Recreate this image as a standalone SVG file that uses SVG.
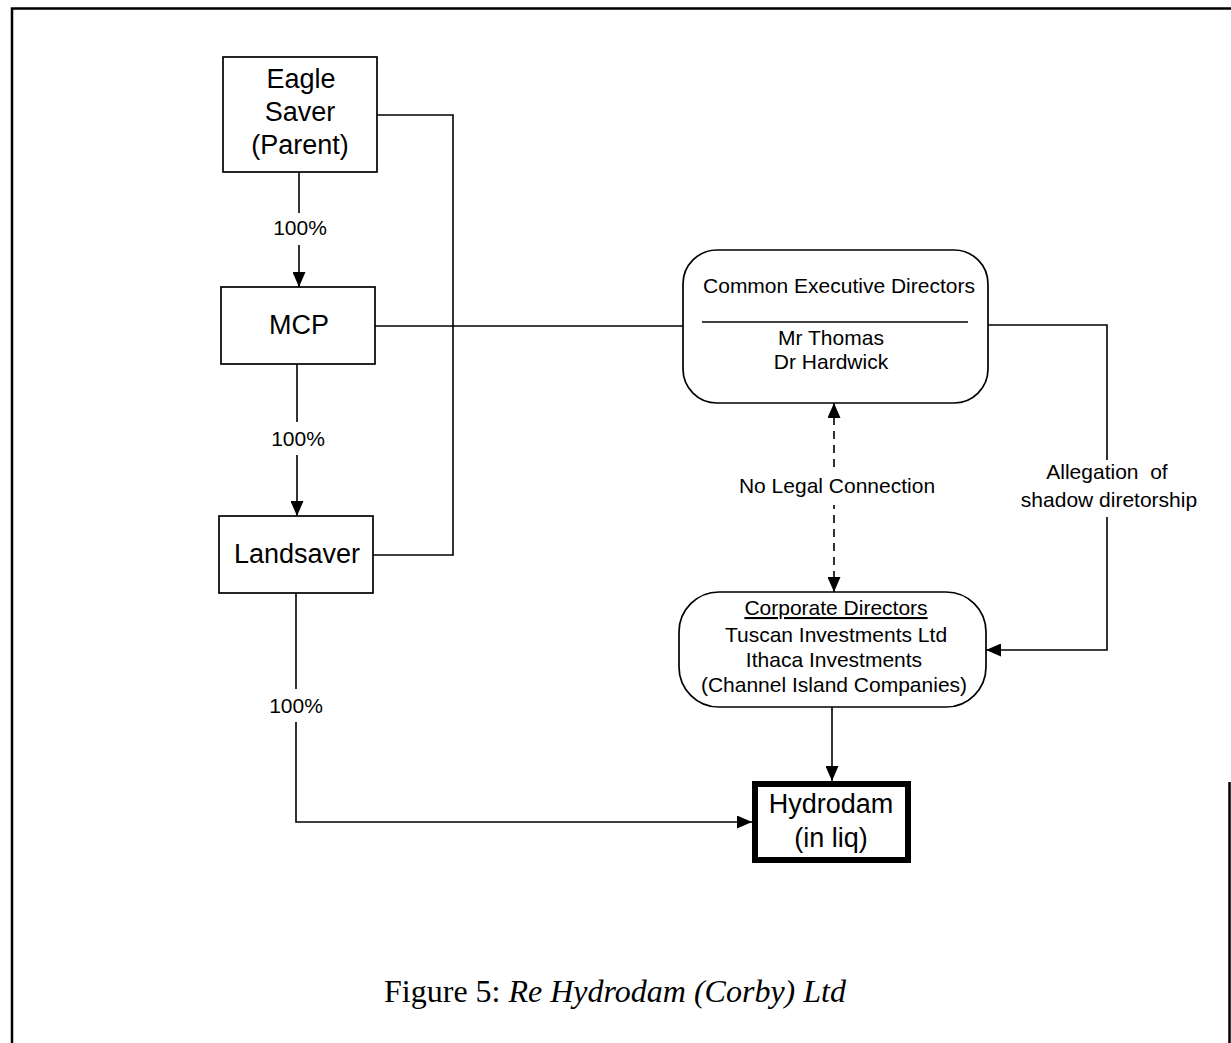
<svg xmlns="http://www.w3.org/2000/svg" width="1231" height="1043" viewBox="0 0 1231 1043">
  <style>
    .box { fill: #ffffff; stroke: #000000; stroke-width: 1.7; }
    .thick { fill: #ffffff; stroke: #000000; stroke-width: 6; }
    .line { fill: none; stroke: #000000; stroke-width: 1.6; }
    .dash { fill: none; stroke: #000000; stroke-width: 1.6; stroke-dasharray: 8 6; }
    .big { font-family: "Liberation Sans", Arial, sans-serif; font-size: 27px; fill: #000; text-anchor: middle; }
    .small { font-family: "Liberation Sans", Arial, sans-serif; font-size: 21px; fill: #000; text-anchor: middle; }
    .bg { fill: #ffffff; stroke: none; }
    .caption { font-family: "Liberation Serif", "Times New Roman", serif; font-size: 32px; fill: #000; text-anchor: middle; }
    .frame { fill: none; stroke: #000000; stroke-width: 2.5; }
  </style>
  <defs>
    <marker id="arr" viewBox="0 0 15 13" refX="15" refY="6.5" markerWidth="15" markerHeight="13" orient="auto-start-reverse" markerUnits="userSpaceOnUse">
      <path d="M0,0 L15,6.5 L0,13 z" fill="#000000"/>
    </marker>
  </defs>

  <rect x="0" y="0" width="1231" height="1043" fill="#ffffff"/>

  <g id="frame">
    <path class="frame" d="M12,1043 L12,8.5 L1231,8.5"/>
    <path class="frame" d="M1229.5,782 L1229.5,1043"/>
  </g>

  <g id="connectors">
    <!-- Eagle Saver -> MCP -->
    <line class="line" x1="299" y1="172" x2="299" y2="287" marker-end="url(#arr)"/>
    <!-- MCP -> Landsaver -->
    <line class="line" x1="297" y1="364" x2="297" y2="516" marker-end="url(#arr)"/>
    <!-- Landsaver -> Hydrodam -->
    <path class="line" d="M296,593 L296,822 L752,822" marker-end="url(#arr)"/>
    <!-- Eagle Saver to Landsaver side link -->
    <path class="line" d="M377,115 L453,115 L453,555 L373,555"/>
    <!-- MCP to Common Executive Directors -->
    <line class="line" x1="375" y1="326" x2="683" y2="326"/>
    <!-- Common Exec -> Corporate Directors (allegation) -->
    <path class="line" d="M988,325 L1107,325 L1107,650 L986,650" marker-end="url(#arr)"/>
    <!-- No legal connection (dashed, double-headed) -->
    <line class="dash" x1="834" y1="403" x2="834" y2="592" marker-start="url(#arr)" marker-end="url(#arr)"/>
    <!-- Corporate Directors -> Hydrodam -->
    <line class="line" x1="832" y1="707" x2="832" y2="781" marker-end="url(#arr)"/>

    <!-- labels -->
    <rect class="bg" x="273" y="213" width="54" height="32"/>
    <text class="small" x="300" y="235">100%</text>
    <rect class="bg" x="270" y="422" width="56" height="33"/>
    <text class="small" x="298" y="446">100%</text>
    <rect class="bg" x="268" y="689" width="56" height="33"/>
    <text class="small" x="296" y="713">100%</text>
    <rect class="bg" x="738" y="470" width="198" height="35"/>
    <text class="small" x="837" y="493" font-size="23">No Legal Connection</text>
    <rect class="bg" x="1038" y="460" width="144" height="57"/>
    <text class="small" x="1107" y="479" xml:space="preserve">Allegation  of</text>
    <text class="small" x="1109" y="507">shadow diretorship</text>
  </g>

  <g id="eagle-saver">
    <rect class="box" x="223" y="57" width="154" height="115"/>
    <text class="big" x="301" y="88">Eagle</text>
    <text class="big" x="300" y="121">Saver</text>
    <text class="big" x="300" y="154">(Parent)</text>
  </g>

  <g id="mcp">
    <rect class="box" x="221" y="287" width="154" height="77"/>
    <text class="big" x="299" y="334">MCP</text>
  </g>

  <g id="landsaver">
    <rect class="box" x="219" y="516" width="154" height="77"/>
    <text class="big" x="297" y="563">Landsaver</text>
  </g>

  <g id="common-executive-directors">
    <rect class="box" x="683" y="250" width="305" height="153" rx="34" ry="34"/>
    <text class="small" x="839" y="293">Common Executive Directors</text>
    <line class="line" x1="702" y1="322" x2="968" y2="322" stroke-width="2"/>
    <text class="small" x="831" y="345">Mr Thomas</text>
    <text class="small" x="831" y="369">Dr Hardwick</text>
  </g>

  <g id="corporate-directors">
    <rect class="box" x="679" y="592" width="307" height="115" rx="40" ry="40"/>
    <text class="small" x="836" y="615" text-decoration="underline">Corporate Directors</text>
    <text class="small" x="836" y="642">Tuscan Investments Ltd</text>
    <text class="small" x="834" y="667">Ithaca Investments</text>
    <text class="small" x="834" y="692">(Channel Island Companies)</text>
  </g>

  <g id="hydrodam">
    <rect class="thick" x="755" y="784" width="153" height="76"/>
    <text class="big" x="831" y="813">Hydrodam</text>
    <text class="big" x="831" y="847">(in liq)</text>
  </g>

  <g id="caption">
    <text class="caption" x="615" y="1002">Figure 5: <tspan font-style="italic">Re Hydrodam (Corby) Ltd</tspan></text>
  </g>
</svg>
